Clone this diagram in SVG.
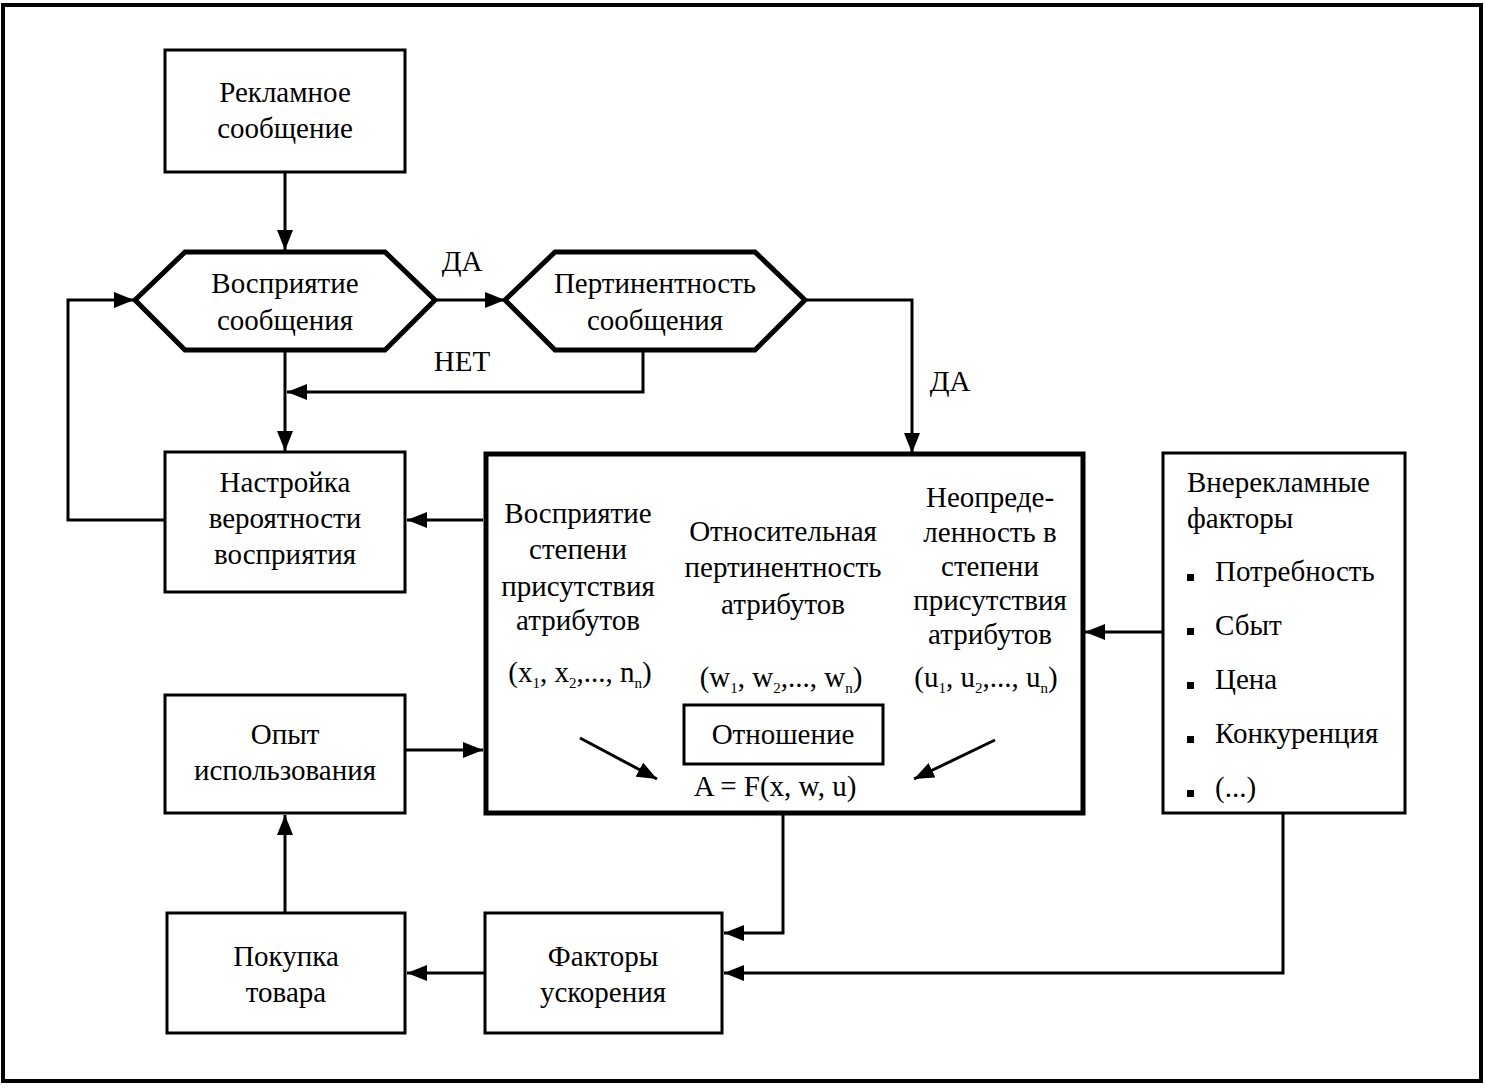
<svg xmlns="http://www.w3.org/2000/svg" width="1486" height="1088" viewBox="0 0 1486 1088">
<style>
text{font-family:"Liberation Serif","Times New Roman",serif;font-size:29px;fill:#000;text-anchor:middle}
.l{text-anchor:start}
.box{fill:#fff;stroke:#000;stroke-width:3}
.thick{fill:#fff;stroke:#000;stroke-width:5}
.c{fill:none;stroke:#000;stroke-width:3}
.sub{font-size:15px}
</style>
<defs>
<marker id="ah" viewBox="0 0 10 10" refX="10" refY="5" markerWidth="20" markerHeight="16" markerUnits="userSpaceOnUse" orient="auto" preserveAspectRatio="none">
<path d="M0,0 L10,5 L0,10 z" fill="#000"/>
</marker>
</defs>
<rect x="3" y="5" width="1478" height="1076" fill="#fff" stroke="#000" stroke-width="4"/>

<g id="connectors">
<path class="c" d="M285,172 V250" marker-end="url(#ah)"/>
<path class="c" d="M437,300 H505" marker-end="url(#ah)"/>
<path class="c" d="M805,300 H912 V453" marker-end="url(#ah)"/>
<path class="c" d="M643,352 V392 H287" marker-end="url(#ah)"/>
<path class="c" d="M285,352 V451" marker-end="url(#ah)"/>
<path class="c" d="M165,520 H68 V300 H134" marker-end="url(#ah)"/>
<path class="c" d="M483,520 H407" marker-end="url(#ah)"/>
<path class="c" d="M405,750 H483" marker-end="url(#ah)"/>
<path class="c" d="M285,913 V815" marker-end="url(#ah)"/>
<path class="c" d="M485,973 H407" marker-end="url(#ah)"/>
<path class="c" d="M783,815 V933 H724" marker-end="url(#ah)"/>
<path class="c" d="M1283,813 V973 H724" marker-end="url(#ah)"/>
<path class="c" d="M1163,632 H1085" marker-end="url(#ah)"/>
<text x="462" y="271">ДА</text>
<text x="462" y="371">НЕТ</text>
<text x="950" y="391">ДА</text>
</g>

<g id="n-reklama">
<rect class="box" x="165" y="50" width="240" height="122"/>
<text x="285" y="102">Рекламное</text>
<text x="285" y="138">сообщение</text>
</g>

<g id="n-vospr">
<polygon class="thick" points="135,300 185,252 385,252 435,300 385,350 185,350"/>
<text x="285" y="293">Восприятие</text>
<text x="285" y="330">сообщения</text>
</g>

<g id="n-pert">
<polygon class="thick" points="505,300 555,252 755,252 805,300 755,350 555,350"/>
<text x="655" y="293">Пертинентность</text>
<text x="655" y="330">сообщения</text>
</g>

<g id="n-nastr">
<rect class="box" x="165" y="452" width="240" height="140"/>
<text x="285" y="492">Настройка</text>
<text x="285" y="528">вероятности</text>
<text x="285" y="564">восприятия</text>
</g>

<g id="n-big">
<rect class="thick" x="486" y="454" width="597" height="359"/>
<text x="578" y="523">Восприятие</text>
<text x="578" y="559">степени</text>
<text x="578" y="596">присутствия</text>
<text x="578" y="630">атрибутов</text>
<text x="580" y="682">(x<tspan class="sub" dy="6">1</tspan><tspan dy="-6">, x</tspan><tspan class="sub" dy="6">2</tspan><tspan dy="-6">,..., n</tspan><tspan class="sub" dy="6">n</tspan><tspan dy="-6">)</tspan></text>
<text x="783" y="541">Относительная</text>
<text x="783" y="577">пертинентность</text>
<text x="783" y="614">атрибутов</text>
<text x="781" y="687">(w<tspan class="sub" dy="6">1</tspan><tspan dy="-6">, w</tspan><tspan class="sub" dy="6">2</tspan><tspan dy="-6">,..., w</tspan><tspan class="sub" dy="6">n</tspan><tspan dy="-6">)</tspan></text>
<text x="990" y="507">Неопреде-</text>
<text x="990" y="542">ленность в</text>
<text x="990" y="576">степени</text>
<text x="990" y="610">присутствия</text>
<text x="990" y="644">атрибутов</text>
<text x="986" y="687">(u<tspan class="sub" dy="6">1</tspan><tspan dy="-6">, u</tspan><tspan class="sub" dy="6">2</tspan><tspan dy="-6">,..., u</tspan><tspan class="sub" dy="6">n</tspan><tspan dy="-6">)</tspan></text>
<rect class="box" x="684" y="705" width="199" height="59"/>
<text x="783" y="744">Отношение</text>
<text x="775" y="796">A = F(x, w, u)</text>
<path class="c" d="M580,738 L657,779" marker-end="url(#ah)"/>
<path class="c" d="M995,740 L914,779" marker-end="url(#ah)"/>
</g>

<g id="n-opyt">
<rect class="box" x="165" y="695" width="240" height="118"/>
<text x="285" y="744">Опыт</text>
<text x="285" y="780">использования</text>
</g>

<g id="n-vnerek">
<rect class="box" x="1163" y="453" width="242" height="360"/>
<text class="l" x="1187" y="492">Внерекламные</text>
<text class="l" x="1187" y="528">факторы</text>
<rect x="1187" y="574" width="7" height="7"/>
<text class="l" x="1215" y="581">Потребность</text>
<rect x="1187" y="628" width="7" height="7"/>
<text class="l" x="1215" y="635">Сбыт</text>
<rect x="1187" y="682" width="7" height="7"/>
<text class="l" x="1215" y="689">Цена</text>
<rect x="1187" y="736" width="7" height="7"/>
<text class="l" x="1215" y="743">Конкуренция</text>
<rect x="1187" y="790" width="7" height="7"/>
<text class="l" x="1215" y="797">(...)</text>
</g>

<g id="n-pokupka">
<rect class="box" x="167" y="913" width="238" height="120"/>
<text x="286" y="966">Покупка</text>
<text x="286" y="1002">товара</text>
</g>

<g id="n-faktory">
<rect class="box" x="485" y="913" width="237" height="120"/>
<text x="603" y="966">Факторы</text>
<text x="603" y="1002">ускорения</text>
</g>
</svg>
